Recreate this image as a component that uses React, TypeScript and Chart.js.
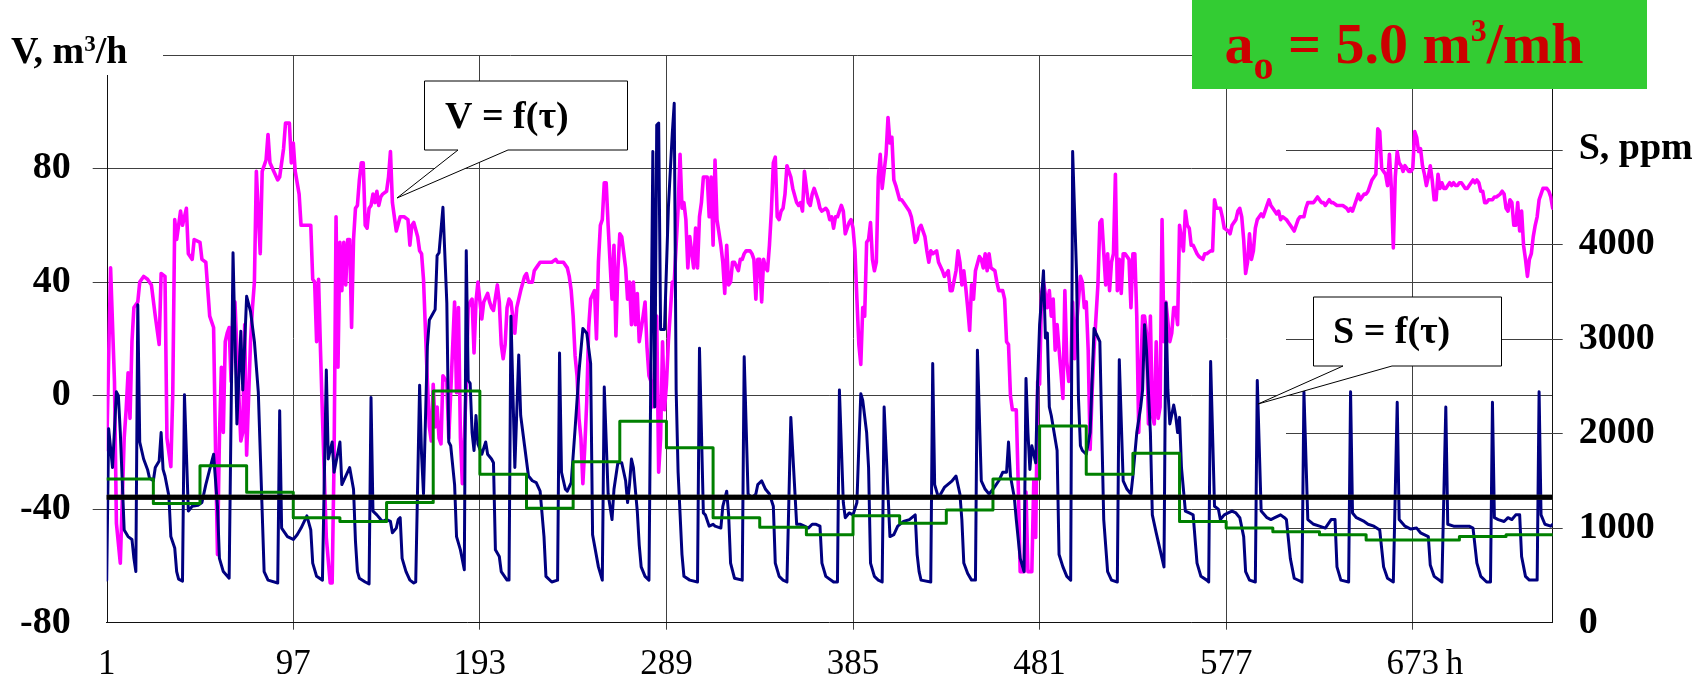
import { useEffect, useRef } from 'react';
import { Chart, registerables } from 'chart.js';

Chart.register(...registerables);

// Air flow V (m³/h) readings: [hour, value]
const flowPoints: [number, number][] = [
  [1,-19],[3,45],[5,5],[6,-45],[8,-59],[10,-15],[11,-5],[12,8],[13,-8],[14,19],[15,31],[17,33],[18,40],[20,42],[22,41],[24,39],
  [26,28],[28,18],[29,43],[31,42],[32,-15],[34,-25],[35,1],[36,62],[37,55],[39,65],[40,60],[42,66],[43,50],[45,48],[46,55],[49,54],
  [50,48],[52,47],[54,28],[56,24],[57,-19],[58,-56],[59,-15],[60,10],[61,-13],[62,19],[63,22],[64,24],[65,5],[66,31],[67,33],[68,16],
  [70,-16],[71,-13],[72,25],[73,-21],[75,19],[76,31],[77,40],[78,79],[80,50],[81,79],[83,83],[84,92],[85,82],[87,79],[89,76],[90,77],
  [92,87],[93,96],[95,96],[96,82],[97,89],[98,79],[100,71],[101,60],[103,60],[106,60],[107,41],[108,40],[109,19],[110,41],[111,16],[112,-7],
  [114,-50],[116,-66],[117,-66],[118,-22],[119,63],[120,10],[121,54],[122,37],[123,54],[124,39],[125,55],[126,55],[127,24],[128,55],[129,66],[130,67],
  [131,76],[132,82],[133,82],[134,60],[135,59],[136,66],[137,67],[138,71],[139,68],[140,72],[141,67],[142,70],[143,71],[145,72],[146,77],[147,86],
  [148,68],[149,63],[150,58],[152,63],[153,63],[154,63],[156,62],[157,53],[158,60],[159,61],[161,56],[162,51],[163,50],[164,41],[166,5],[167,-11],
  [168,-16],[169,4],[170,-11],[171,-4],[172,-15],[173,-17],[174,7],[176,5],[177,-15],[180,33],[181,1],[182,31],[183,-15],[184,-31],[185,-15],[186,4],
  [187,31],[188,33],[189,34],[190,15],[191,33],[192,40],[194,27],[195,33],[197,36],[198,33],[199,31],[200,30],[202,39],[203,33],[204,18],[205,13],
  [206,18],[207,31],[208,34],[209,33],[211,22],[212,31],[213,34],[214,37],[216,42],[217,43],[218,40],[220,40],[221,44],[222,45],[224,47],[225,47],
  [226,47],[228,47],[230,47],[232,48],[233,47],[235,47],[236,47],[238,45],[239,42],[240,37],[241,28],[242,14],[243,7],[244,-8],[245,-15],[246,-31],
  [247,-18],[248,-2],[249,24],[250,34],[252,37],[253,20],[254,47],[255,60],[256,62],[257,75],[258,75],[259,60],[261,34],[262,53],[263,21],[264,44],
  [265,57],[266,56],[268,45],[269,34],[270,40],[271,25],[272,40],[273,25],[274,36],[275,19],[277,28],[278,33],[279,17],[280,7],[281,5],[282,-4],
  [284,28],[285,-27],[286,-15],[287,19],[288,-5],[289,4],[290,19],[292,40],[293,40],[294,53],[295,66],[296,85],[297,66],[298,68],[299,62],[300,45],
  [301,56],[303,45],[304,59],[305,45],[306,63],[307,68],[308,77],[310,77],[311,63],[312,77],[313,53],[314,83],[315,62],[317,53],[318,47],[319,36],
  [320,53],[321,39],[322,40],[323,47],[324,47],[326,44],[327,48],[328,48],[329,50],[330,51],[332,51],[333,50],[334,48],[335,34],[336,48],[337,48],
  [338,33],[339,48],[340,45],[341,44],[342,53],[343,65],[344,82],[345,84],[346,63],[347,62],[348,65],[349,66],[350,71],[351,81],[353,77],[354,73],
  [356,68],[357,67],[358,68],[359,65],[360,79],[362,68],[363,67],[364,71],[365,73],[367,69],[368,66],[369,65],[371,66],[372,65],[373,62],[374,63],
  [375,59],[376,63],[377,63],[378,65],[379,67],[380,65],[381,57],[383,61],[384,62],[385,59],[386,51],[387,34],[388,18],[389,11],[390,31],[391,28],
  [392,54],[393,55],[394,61],[395,48],[396,44],[397,47],[398,77],[399,85],[400,73],[402,85],[403,98],[404,89],[405,91],[406,76],[407,74],[409,69],
  [410,69],[411,68],[413,66],[414,65],[415,63],[416,59],[417,54],[418,55],[419,59],[420,60],[422,56],[423,51],[424,47],[425,51],[426,50],[428,51],
  [429,47],[431,44],[432,42],[434,44],[435,37],[436,37],[438,44],[439,51],[440,47],[441,39],[442,44],[443,38],[444,31],[445,23],[446,39],[447,34],
  [448,44],[450,49],[451,48],[452,45],[453,50],[454,44],[455,50],[456,45],[458,44],[459,40],[460,37],[462,37],[463,34],[464,19],[465,18],[466,0],
  [467,-5],[469,-5],[470,-31],[471,-62],[473,-62],[474,-34],[475,-62],[477,-62],[478,-30],[479,-50],[480,5],[481,4],[482,36],[483,40],[485,31],[486,37],
  [487,28],[488,34],[489,16],[490,25],[492,8],[493,-1],[494,37],[495,12],[496,5],[497,7],[498,33],[499,13],[500,25],[502,42],[503,40],[504,31],
  [505,33],[506,16],[507,-19],[508,1],[509,16],[511,39],[512,61],[513,62],[515,39],[516,50],[517,37],[518,47],[519,50],[520,78],[521,37],[522,48],
  [523,36],[524,50],[525,50],[527,48],[528,31],[529,50],[530,50],[531,28],[532,-13],[534,28],[535,28],[536,22],[537,-10],[538,28],[539,-7],[540,-10],
  [541,19],[542,-8],[543,-4],[544,62],[545,19],[546,33],[548,19],[549,22],[550,31],[551,31],[552,25],[553,60],[555,51],[556,65],[557,60],[558,59],
  [559,53],[560,53],[562,50],[563,49],[565,48],[566,50],[567,50],[569,51],[570,51],[571,69],[572,66],[574,66],[575,63],[576,59],[578,58],[579,57],
  [580,60],[582,62],[583,65],[584,66],[585,63],[586,55],[587,43],[588,47],[589,57],[590,48],[591,51],[592,59],[593,62],[594,63],[595,64],[596,63],
  [598,67],[599,69],[600,67],[601,66],[603,64],[604,65],[605,62],[606,63],[608,62],[609,61],[610,60],[612,58],[613,60],[614,62],[615,63],[617,63],
  [618,66],[619,68],[620,68],[622,68],[623,69],[624,70],[626,68],[627,68],[628,67],[630,69],[631,68],[632,68],[634,67],[635,67],[636,67],[637,67],
  [639,66],[640,65],[641,66],[642,65],[644,69],[645,71],[646,69],[648,71],[649,71],[650,72],[651,74],[652,76],[654,78],[655,94],[656,93],[657,80],
  [658,79],[659,78],[660,74],[661,85],[662,73],[663,52],[664,77],[665,86],[666,82],[667,81],[668,79],[669,81],[671,79],[672,79],[673,80],[674,93],
  [675,91],[676,86],[677,87],[678,81],[679,78],[680,74],[681,77],[682,81],[683,76],[684,69],[685,69],[686,78],[687,73],[688,75],[689,73],[690,73],
  [691,74],[692,75],[693,74],[694,75],[695,74],[696,74],[697,75],[698,75],[699,74],[700,73],[701,73],[703,75],[704,76],[705,75],[706,76],[707,75],
  [708,72],[709,72],[710,68],[711,68],[712,69],[713,69],[714,69],[715,70],[716,70],[718,71],[719,72],[720,71],[721,66],[722,65],[723,69],[724,68],
  [725,60],[726,60],[727,68],[728,58],[729,65],[730,53],[731,48],[732,42],[733,48],[734,50],[735,56],[736,60],[737,63],[738,69],[739,71],[740,73],
  [742,73],[743,72],[744,70],[745,66],
];

// CO2 concentration S (ppm) readings: [hour, value]
const co2Points: [number, number][] = [
  [1,450],[2,2050],[4,1640],[6,2440],[7,2400],[8,2010],[10,980],[12,910],[14,880],[15,680],[16,540],[17,3360],[18,1910],[20,1730],[22,1620],[23,1530],
  [25,1500],[26,1640],[28,1710],[29,2010],[30,1620],[31,1550],[33,1340],[34,910],[36,790],[37,540],[38,460],[40,440],[41,2410],[43,1180],[45,1230],[48,1240],
  [50,1270],[52,1460],[54,1620],[56,1780],[58,1230],[59,680],[61,540],[64,470],[66,3910],[68,2100],[70,3080],[71,2460],[73,3450],[75,3290],[77,2970],[79,2440],
  [82,540],[84,450],[89,420],[90,2240],[91,1000],[94,910],[97,880],[99,930],[101,1000],[104,1130],[106,980],[107,630],[109,490],[112,450],[114,2670],[115,1730],
  [117,1910],[118,1590],[121,1910],[122,1460],[124,1550],[126,1640],[128,1410],[129,860],[130,540],[131,470],[134,430],[136,410],[137,2380],[138,1180],[140,1140],[142,1090],
  [143,1070],[145,1090],[147,1070],[148,950],[150,1000],[151,1090],[152,1110],[153,680],[155,540],[157,450],[159,420],[160,430],[162,2510],[163,1780],[164,1360],[166,2920],
  [167,3200],[170,3310],[171,3880],[172,3910],[174,4390],[176,3380],[177,1910],[178,1870],[180,1460],[181,910],[183,770],[185,560],[186,3930],[187,2560],[188,2530],[189,2010],
  [190,1820],[191,2190],[192,1890],[194,1780],[196,1910],[197,1780],[199,1730],[200,1690],[201,770],[203,700],[204,540],[207,450],[208,450],[209,3240],[211,1640],[213,2830],
  [214,2190],[216,1870],[218,1550],[220,1500],[222,1480],[224,1390],[226,910],[227,490],[230,430],[233,450],[234,2850],[235,1590],[237,1410],[238,1390],[240,1480],[242,2050],
  [244,2650],[246,3110],[248,3060],[250,2740],[251,930],[254,590],[256,450],[257,2490],[259,1360],[261,1090],[262,1410],[264,1690],[266,1690],[268,1500],[269,1270],[270,1460],
  [271,1730],[272,1640],[274,1180],[275,820],[276,590],[278,490],[280,450],[282,4980],[283,2280],[284,5260],[285,5280],[286,3100],[288,3100],[290,4390],[292,5170],[293,5490],
  [294,2460],[295,1590],[297,720],[298,490],[301,450],[305,430],[306,2900],[308,1160],[309,1140],[311,1020],[313,1040],[314,1020],[317,1000],[318,1230],[320,1390],[321,1140],
  [322,630],[324,470],[328,450],[329,2810],[331,1360],[333,1320],[335,1360],[336,1460],[338,1500],[340,1410],[342,1360],[344,1230],[345,630],[347,490],[349,450],[351,430],
  [353,2170],[356,1040],[358,1040],[360,1020],[362,1000],[364,1040],[366,1040],[368,1020],[369,630],[371,490],[375,430],[377,430],[378,2460],[380,1270],[381,1110],[383,1160],
  [385,1140],[387,1270],[388,1870],[389,2420],[390,2350],[392,2010],[393,1640],[394,630],[396,490],[398,450],[400,430],[401,2280],[404,910],[406,930],[408,1020],[411,1070],
  [414,1090],[417,1140],[418,720],[419,540],[420,450],[425,430],[426,2740],[427,1460],[429,1320],[432,1430],[436,1500],[438,1550],[440,1360],[441,1090],[442,630],[444,520],
  [446,450],[448,450],[449,2880],[451,1500],[453,1410],[455,1360],[457,1410],[460,1500],[462,1590],[464,1590],[465,1910],[466,1550],[468,1320],[469,1090],[471,680],[473,540],
  [474,2580],[475,2010],[476,1620],[477,1870],[478,1780],[479,1690],[480,2560],[481,3150],[483,3720],[484,3010],[485,3060],[486,2280],[487,2190],[490,1820],[491,720],[493,590],
  [495,490],[497,450],[498,4980],[500,3700],[501,2370],[502,1870],[503,1820],[505,1780],[507,2010],[509,3110],[510,3060],[512,2970],[514,1090],[516,540],[518,450],[521,430],
  [522,2780],[524,1500],[526,1410],[528,1360],[529,1550],[531,2010],[533,2280],[534,2460],[535,3150],[536,2880],[538,2010],[539,1140],[541,950],[543,770],[545,590],[546,3380],
  [547,2460],[548,2100],[550,2300],[551,2190],[552,2010],[553,2170],[554,1640],[556,1180],[558,1160],[560,1140],[562,630],[564,490],[567,450],[568,430],[569,2760],[571,1230],
  [573,1200],[574,1090],[576,1140],[578,1160],[580,1180],[582,1160],[584,1110],[586,910],[587,540],[589,450],[592,430],[593,2560],[595,1180],[598,1110],[600,1090],[602,1110],
  [605,1140],[607,1110],[608,1090],[610,680],[612,470],[616,430],[617,2440],[619,1090],[622,1040],[625,1020],[628,1000],[631,1090],[633,1090],[634,590],[636,450],[640,430],
  [641,2440],[642,1160],[644,1110],[648,1070],[650,1040],[653,1020],[656,980],[658,590],[660,470],[663,430],[665,2330],[666,1090],[669,1020],[672,990],[675,1000],[677,950],
  [681,910],[682,610],[684,490],[688,430],[690,2280],[691,1040],[694,1020],[699,1020],[702,1020],[704,1000],[706,630],[708,490],[711,430],[713,430],[714,2330],[715,1110],
  [717,1090],[720,1070],[722,1110],[724,1090],[726,1140],[728,1140],[729,700],[731,490],[733,450],[737,450],[738,2440],[739,1140],[741,1040],[744,1020],[745,1040],
];

// Daily mean of S (ppm), one value per day starting at the listed hour
const dayStartHours = [1,25,49,73,97,121,145,169,193,217,241,265,289,313,337,361,385,409,433,457,481,505,529,553,577,601,625,649,673,697,721];
const dailyMeanS = [1520,1260,1660,1380,1110,1070,1270,2450,1570,1210,1700,2130,1850,1110,1010,930,1130,1050,1190,1520,2080,1570,1790,1070,1000,960,930,875,875,910,930];
const lastHour = 745;

// Monthly mean S, drawn as a horizontal reference line
const meanS = 1325;

const hourTicks = [1, 97, 193, 289, 385, 481, 577, 673];
const sGuideLevels = [1000, 2000, 3000, 4000, 5000];
const sGuideFromHour = 608;

const SERIF = "'Liberation Serif', 'Times New Roman', serif";
const GRID = '#404040';

const X_LABEL_PAD = 14;
const X_TICK_LEN = 7;
const X_FONT = 35;
const BOLD_FONT = 38;

function drawPieces(
  ctx: CanvasRenderingContext2D,
  pieces: { t: string; size: number; dy: number }[],
  x: number,
  baseline: number,
  align: 'left' | 'center',
) {
  ctx.textBaseline = 'alphabetic';
  ctx.textAlign = 'left';
  const widths = pieces.map((p) => {
    ctx.font = `bold ${p.size}px ${SERIF}`;
    return ctx.measureText(p.t).width;
  });
  const total = widths.reduce((a, b) => a + b, 0);
  let cx = align === 'center' ? x - total / 2 : x;
  pieces.forEach((p, i) => {
    ctx.font = `bold ${p.size}px ${SERIF}`;
    ctx.fillText(p.t, cx, baseline + p.dy);
    cx += widths[i];
  });
}

function callout(
  ctx: CanvasRenderingContext2D,
  box: [number, number, number, number],
  baseA: number,
  baseB: number,
  tip: [number, number],
  text: string,
  textX: number,
  textY: number,
) {
  const [x, y, w, h] = box;
  ctx.beginPath();
  ctx.moveTo(x, y);
  ctx.lineTo(x + w, y);
  ctx.lineTo(x + w, y + h);
  ctx.lineTo(baseB, y + h);
  ctx.lineTo(tip[0], tip[1]);
  ctx.lineTo(baseA, y + h);
  ctx.lineTo(x, y + h);
  ctx.closePath();
  ctx.fillStyle = '#ffffff';
  ctx.fill();
  ctx.strokeStyle = '#000';
  ctx.lineWidth = 1;
  ctx.stroke();
  ctx.fillStyle = '#000';
  ctx.font = `bold ${BOLD_FONT}px ${SERIF}`;
  ctx.textAlign = 'left';
  ctx.textBaseline = 'alphabetic';
  ctx.fillText(text, textX, textY);
}

const overlayPlugin = {
  id: 'overlay',
  beforeDatasetsDraw(chart: any) {
    const { ctx, chartArea: a, scales } = chart;
    const xs = scales.x;
    const ys = scales.y;
    const ys1 = scales.y1;
    ctx.save();
    ctx.lineWidth = 1;
    ctx.strokeStyle = GRID;
    // S-axis guide lines across the right part of the plot
    const gx = Math.round(xs.getPixelForValue(sGuideFromHour));
    sGuideLevels.forEach((v) => {
      const py = Math.round(ys1.getPixelForValue(v)) + 0.5;
      ctx.beginPath();
      ctx.moveTo(gx, py);
      ctx.lineTo(a.right + 10, py);
      ctx.stroke();
    });
    // top frame line at V = 120
    const ty = Math.round(ys.getPixelForValue(120)) + 0.5;
    ctx.beginPath();
    ctx.moveTo(163, ty);
    ctx.lineTo(a.right, ty);
    ctx.stroke();
    // left value axis
    ctx.strokeStyle = '#111';
    const lx = Math.round(a.left) + 0.5;
    ctx.beginPath();
    ctx.moveTo(lx, 75);
    ctx.lineTo(lx, a.bottom);
    ctx.stroke();
    ctx.restore();
  },
  afterDraw(chart: any) {
    const { ctx, scales } = chart;
    ctx.save();

    // axis titles
    ctx.fillStyle = '#000';
    drawPieces(
      ctx,
      [
        { t: 'V, m', size: BOLD_FONT, dy: 0 },
        { t: '3', size: 23, dy: -12 },
        { t: '/h', size: BOLD_FONT, dy: 0 },
      ],
      11,
      63,
      'left',
    );
    const hx = scales.x.getPixelForValue(673) + 33;
    ctx.font = `${X_FONT}px ${SERIF}`;
    ctx.textAlign = 'left';
    ctx.textBaseline = 'middle';
    ctx.fillText('h', hx, scales.x.top + X_TICK_LEN + X_LABEL_PAD + (X_FONT * 1.2) / 2);

    // callouts
    callout(ctx, [424.5, 81, 203, 69], 458, 508, [397, 198], 'V = f(\u03c4)', 445, 128);
    callout(ctx, [1313.5, 297, 188, 69], 1343, 1392, [1258, 404], 'S = f(\u03c4)', 1333, 343);

    // parameter banner
    ctx.fillStyle = '#33CC33';
    ctx.fillRect(1192, 0, 455, 89);
    ctx.fillStyle = '#CC0000';
    drawPieces(
      ctx,
      [
        { t: 'a', size: 58, dy: 0 },
        { t: 'o', size: 40, dy: 16 },
        { t: ' = 5.0 m', size: 58, dy: 0 },
        { t: '3', size: 32, dy: -22 },
        { t: '/mh', size: 58, dy: 0 },
      ],
      1404,
      63,
      'center',
    );
    ctx.restore();
  },
};

export default function App() {
  const canvasRef = useRef<HTMLCanvasElement | null>(null);

  useEffect(() => {
    const canvas = canvasRef.current;
    if (!canvas) return;

    const greenData = dayStartHours.map((h, i) => ({ x: h, y: dailyMeanS[i] }));
    greenData.push({ x: lastHour, y: dailyMeanS[dailyMeanS.length - 1] });

    const chart = new Chart(canvas, {
      type: 'line',
      data: {
        datasets: [
          {
            label: 'mean S',
            data: [
              { x: 1, y: meanS },
              { x: lastHour, y: meanS },
            ],
            yAxisID: 'y1',
            borderColor: '#000000',
            borderWidth: 5,
            borderDash: [3, 1],
            pointRadius: 0,
          },
          {
            label: 'mean S base',
            data: [
              { x: 1, y: meanS },
              { x: lastHour, y: meanS },
            ],
            yAxisID: 'y1',
            borderColor: '#5a5a5a',
            borderWidth: 5,
            pointRadius: 0,
          },
          {
            label: 'daily mean S',
            data: greenData,
            yAxisID: 'y1',
            borderColor: '#008000',
            borderWidth: 3,
            stepped: true,
            pointRadius: 0,
          },
          {
            label: 'S = f(\u03c4)',
            data: co2Points.map(([h, v]) => ({ x: h, y: v })),
            yAxisID: 'y1',
            borderColor: '#000080',
            borderWidth: 3,
            pointRadius: 0,
            tension: 0,
          },
          {
            label: 'V = f(\u03c4)',
            data: flowPoints.map(([h, v]) => ({ x: h, y: v })),
            yAxisID: 'y',
            borderColor: '#FF00FF',
            borderWidth: 3.6,
            pointRadius: 0,
            tension: 0,
          },
        ],
      },
      options: {
        responsive: false,
        animation: false,
        devicePixelRatio: 1,
        layout: { padding: { top: 55, left: 0, right: 0, bottom: 0 } },
        plugins: {
          legend: { display: false },
          tooltip: { enabled: false },
          title: { display: false },
        },
        elements: { line: { borderJoinStyle: 'round', borderCapStyle: 'round' } },
        scales: {
          x: {
            type: 'linear',
            position: 'bottom',
            min: 1,
            max: lastHour,
            afterBuildTicks: (s: any) => {
              s.ticks = hourTicks.map((v) => ({ value: v }));
            },
            afterFit: (s: any) => {
              s.height = 679 - 622.7;
            },
            ticks: {
              autoSkip: false,
              maxRotation: 0,
              padding: X_LABEL_PAD,
              color: '#000',
              font: { family: SERIF, size: X_FONT },
              callback: (v: any) => String(v),
            },
            grid: {
              color: (c: any) => (c.index === 0 ? 'rgba(0,0,0,0)' : GRID),
              lineWidth: 1,
              tickLength: X_TICK_LEN,
            },
            border: { display: true, color: '#111', width: 1 },
          },
          y: {
            type: 'linear',
            position: 'left',
            min: -80,
            max: 120,
            ticks: {
              stepSize: 40,
              padding: 22,
              color: '#000',
              font: { family: SERIF, size: BOLD_FONT, weight: 'bold' },
              callback: (v: any) => (v === 120 ? '' : String(v)),
            },
            afterFit: (s: any) => {
              s.width = 106.7;
            },
            grid: {
              color: (c: any) =>
                c.tick && (c.tick.value === 120 || c.tick.value === -80) ? 'rgba(0,0,0,0)' : GRID,
              lineWidth: 1,
              tickLength: 14,
            },
            border: { display: false },
          },
          y1: {
            type: 'linear',
            position: 'right',
            min: 0,
            max: 6000,
            ticks: {
              stepSize: 1000,
              padding: 16,
              color: '#000',
              font: { family: SERIF, size: BOLD_FONT, weight: 'bold' },
              callback: (v: any) => (v === 5000 ? 'S, ppm' : v === 6000 ? '' : String(v)),
            },
            afterFit: (s: any) => {
              s.width = 1698 - 1552.7;
            },
            grid: {
              drawOnChartArea: false,
              color: 'rgba(0,0,0,0)',
              tickLength: 10,
            },
            border: { display: true, color: '#111', width: 1 },
          },
        },
      },
      plugins: [overlayPlugin],
    } as any);

    return () => chart.destroy();
  }, []);

  return (
    <div style={{ position: 'absolute', left: 0, top: 0, width: 1698, height: 679, background: '#ffffff' }}>
      <canvas ref={canvasRef} width={1698} height={679} style={{ display: 'block', width: 1698, height: 679 }} />
    </div>
  );
}
